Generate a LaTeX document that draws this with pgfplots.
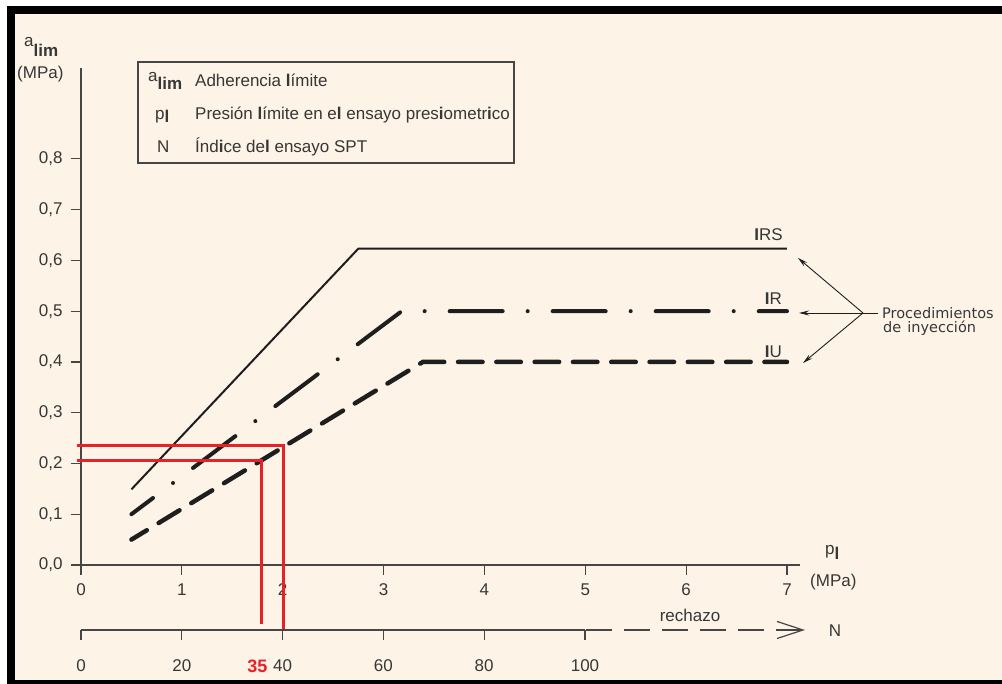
\documentclass[border=0pt]{standalone}
\usepackage{fontspec}
\setmainfont{Liberation Sans}
\newfontfamily\dejavu{DejaVu Sans}
\usepackage{pgfplots}
\pgfplotsset{compat=1.18}
\usetikzlibrary{arrows.meta}
\definecolor{cream}{RGB}{253,243,231}
\definecolor{axgray}{RGB}{70,70,70}
\definecolor{txt}{RGB}{55,55,55}
\definecolor{redl}{RGB}{232,32,40}
\definecolor{ink}{RGB}{30,30,30}
\newcommand{\fs}[1]{\fontsize{#1}{#1}\selectfont}
\begin{document}
\begin{tikzpicture}[x=1pt,y=1pt]
% background and frame
\fill[white] (0,0) rectangle (1002,684);
\fill[cream] (15,4) rectangle (1002,670);
\fill[black] (7,0) rectangle (15,678);
\fill[black] (7,670) rectangle (1002,678);
\fill[black] (7,0) rectangle (1002,4);

\begin{axis}[
  at={(81pt,119pt)}, anchor=south west,
  scale only axis, width=719pt, height=497pt,
  xmin=0, xmax=7.129, ymin=0, ymax=0.979,
  axis lines*=left,
  axis line style={axgray, line width=1.2pt},
  xtick={0,1,2,3,4,5,6,7},
  ytick={0,0.1,0.2,0.3,0.4,0.5,0.6,0.7,0.8},
  tick align=outside, major tick length=10pt,
  tick style={axgray, line width=1.2pt},
  /pgf/number format/assume math mode=true,
  y tick label style={xshift=-5pt, /pgf/number format/.cd, use comma, fixed, fixed zerofill, precision=1},
  x tick label style={yshift=-5pt},
  ticklabel style={font=\fs{17}, text=txt},
  clip=false,
]
\addplot[ink, line width=2pt] coordinates {(0.5,0.149) (2.749,0.623) (7,0.623)};
\addplot[ink, line width=4pt, line cap=round,
  dash pattern=on 53pt off 25pt on 0.01pt off 25pt, dash phase=26pt]
  coordinates {(0.5,0.1) (3.18,0.5) (7,0.5)};
\addplot[ink, line width=4.5pt, line cap=round,
  dash pattern=on 24.5pt off 13.8pt, dash phase=6.5pt]
  coordinates {(0.5,0.05) (3.39,0.4) (7,0.4)};
\addplot[redl, line width=3pt] coordinates {(-0.04,0.235) (2.006,0.235) (2.006,-0.128)};
\addplot[redl, line width=3pt] coordinates {(-0.04,0.2055) (1.788,0.2055) (1.788,-0.116)};
\end{axis}

% N axis
\begin{axis}[
  at={(81pt,54pt)}, anchor=south west,
  scale only axis, width=504pt, height=10pt,
  xmin=0, xmax=100, ymin=0, ymax=1,
  axis x line*=bottom, axis y line=none,
  axis line style={axgray, line width=1.2pt},
  xtick={0,20,40,60,80,100}, ytick=\empty,
  extra x ticks={35}, extra x tick labels={\textbf{35}},
  extra x tick style={major tick length=0pt, tick label style={text=redl, font=\fs{18}, yshift=-10pt}},
  tick align=outside, major tick length=10pt,
  tick style={axgray, line width=1.2pt},
  /pgf/number format/assume math mode=true,
  x tick label style={yshift=-16pt},
  ticklabel style={font=\fs{17}, text=txt},
  clip=false,
]
\end{axis}
\draw[axgray, line width=1.2pt, dash pattern=on 26pt off 12pt,
  -{Straight Barb[length=26pt,width=17pt,line width=1.2pt]}] (586,54) -- (805,54);
\node[anchor=base, text=txt, font=\fs{17}] at (690,62) {rechazo};
\node[anchor=center, text=txt, font=\fs{17}] at (835,53) {N};

% axis labels
\node[anchor=base west, inner sep=0, text=txt, font=\fs{17}] at (24,637) {a\raisebox{-10pt}{\textbf{lim}}};
\node[anchor=base west, inner sep=0, text=txt, font=\fs{17}] at (17,605) {(MPa)};
\node[anchor=base west, inner sep=0, text=txt, font=\fs{17}] at (825,129) {p\raisebox{-5pt}{\textbf{l}}};
\node[anchor=base west, inner sep=0, text=txt, font=\fs{17}] at (810,97) {(MPa)};

% legend box
\draw[axgray, line width=1.3pt] (138,622) rectangle (514,521);
\begin{scope}[every node/.style={anchor=base west, inner sep=0, text=txt, font=\fs{17}}]
\node at (148,597) {\raisebox{5pt}{a}\raisebox{-3pt}{\textbf{lim}}};
\node at (195,597) {Adherencia \textbf{l}ímite};
\node at (155,564) {p\raisebox{-3pt}{\textbf{l}}};
\node at (195,564) {Presión \textbf{l}ímite en e\textbf{l} ensayo pres\textbf{i}ometr\textbf{i}co};
\node at (157,531) {N};
\node at (195,531) {Índ\textbf{i}ce de\textbf{l} ensayo SPT};
\end{scope}

% curve labels
\begin{scope}[every node/.style={anchor=base east, inner sep=0, text=txt, font=\fs{17}}]
\node at (783,443) {\textbf{I}RS};
\node at (782,379) {\textbf{I}R};
\node at (782,326) {\textbf{I}U};
\end{scope}

% arrows
\begin{scope}[ink, line width=0.9pt]
\draw[-{Stealth[length=10pt,width=5pt]}] (863,371) -- (798,426);
\draw[-{Stealth[length=10pt,width=5pt]}] (863,371) -- (799,371);
\draw[-{Stealth[length=10pt,width=5pt]}] (863,371) -- (803,321);
\draw (863,371) -- (878,371);
\end{scope}
\node[anchor=base west, inner sep=0, text=txt, font=\dejavu\fs{14.5}] at (882,365) {Procedimientos};
\node[anchor=base west, inner sep=0, text=txt, font=\dejavu\fs{14.5}] at (883,351) {de\hspace{6pt}inyección};
\end{tikzpicture}
\end{document}
